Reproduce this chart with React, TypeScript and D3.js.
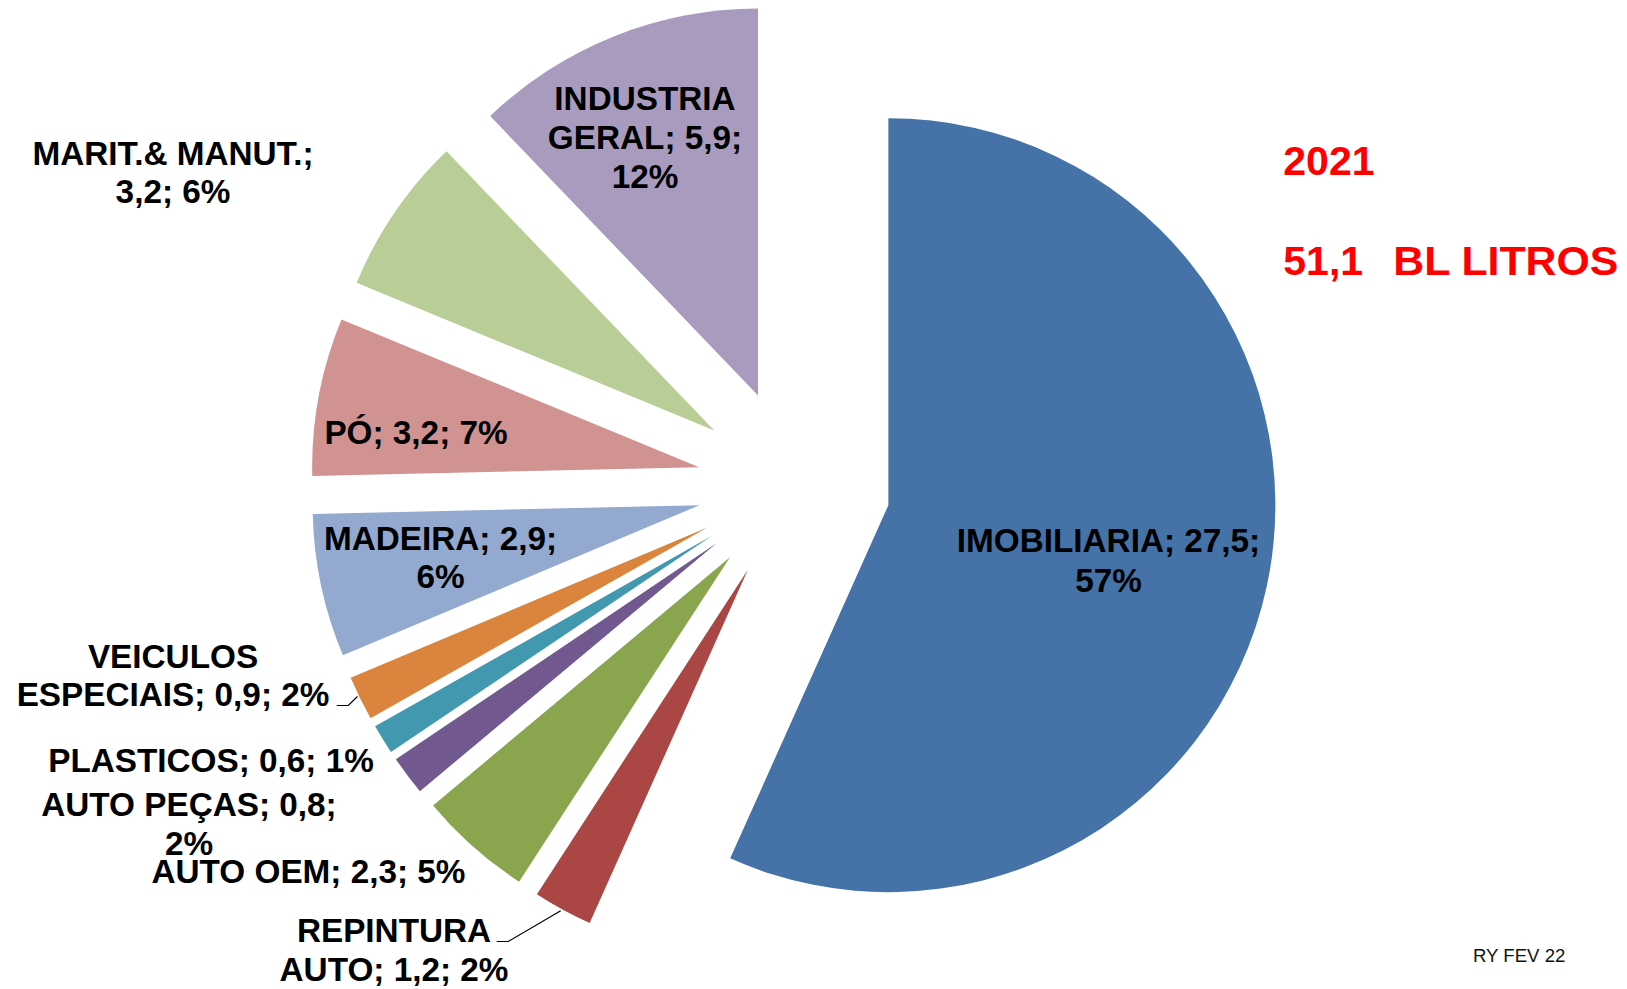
import React from "react";
import * as d3 from "d3";

// ---- data ----
const categories = [
  "IMOBILIARIA",
  "REPINTURA AUTO",
  "AUTO OEM",
  "AUTO PEÇAS",
  "PLASTICOS",
  "VEICULOS ESPECIAIS",
  "MADEIRA",
  "PÓ",
  "MARIT.& MANUT.",
  "INDUSTRIA GERAL",
];
const values = [27.5, 1.2, 2.3, 0.8, 0.6, 0.9, 2.9, 3.2, 3.2, 5.9];
const percentLabels = [57, 2, 5, 2, 1, 2, 6, 7, 6, 12];
const colors = [
  "#4572A7",
  "#AA4643",
  "#89A54E",
  "#71588F",
  "#4198AF",
  "#DB843D",
  "#93A9CF",
  "#D19392",
  "#B9CD96",
  "#A99BBD",
];
const titleYear = "2021";
const titleTotalValue = "51,1";
const titleTotalUnit = "BL LITROS";
const footnote = "RY FEV 22";

// ---- layout ----
const W = 1627;
const H = 989;
const CX = 794;
const CY = 485;
const R = 387;
const EXPLODE = 96.5;
const FONT = "'Liberation Sans', Arial, Helvetica, sans-serif";
const LABEL_SIZE = 33.3;

// words per line and anchor (center x, baselines) for each label
const labelLayout: { words: number[]; x: number; ys: number[] }[] = [
  { words: [2, 1], x: 1108.5, ys: [551.7, 591.7] },
  { words: [1, 3], x: 394, ys: [941.7, 980.5] },
  { words: [4], x: 308.5, ys: [883.3] },
  { words: [3, 1], x: 189, ys: [816, 855] },
  { words: [3], x: 211, ys: [771.7] },
  { words: [1, 3], x: 173, ys: [668.3, 706] },
  { words: [2, 1], x: 440.5, ys: [550, 588.3] },
  { words: [3], x: 416, ys: [444] },
  { words: [2, 2], x: 173, ys: [165, 202.7] },
  { words: [1, 2, 1], x: 645, ys: [110, 149, 187.5] },
];

const leaderLines: [number, number][][] = [
  [
    [496.7, 941.5],
    [508.3, 941.5],
    [560.7, 910.7],
  ],
  [
    [336.7, 705.5],
    [348.3, 705.5],
    [357.5, 696.5],
  ],
];

const fmt = (v: number) => v.toFixed(1).replace(".", ",");

export default function App() {
  const pie = d3
    .pie<number>()
    .sort(null)
    .value((d) => d)
    .startAngle(0)
    .endAngle(2 * Math.PI);
  const arcs = pie(values);
  const arcGen = d3.arc<d3.PieArcDatum<number>>().innerRadius(0).outerRadius(R);

  return (
    <svg
      width={W}
      height={H}
      viewBox={`0 0 ${W} ${H}`}
      style={{ position: "absolute", left: 0, top: 0, background: "#ffffff" }}
    >
      <rect x={0} y={0} width={W} height={H} fill="#ffffff" />
      <g>
        {arcs.map((a, i) => {
          const mid = (a.startAngle + a.endAngle) / 2;
          const dx = EXPLODE * Math.sin(mid);
          const dy = -EXPLODE * Math.cos(mid);
          return (
            <path
              key={categories[i]}
              d={arcGen(a) || ""}
              transform={`translate(${CX + dx},${CY + dy})`}
              fill={colors[i]}
            />
          );
        })}
      </g>
      <g fill="none" stroke="#000" strokeWidth={1.2}>
        {leaderLines.map((pts, i) => (
          <polyline key={i} points={pts.map((p) => p.join(",")).join(" ")} />
        ))}
      </g>
      <g fontFamily={FONT} fontWeight="bold" fontSize={LABEL_SIZE} fill="#000" textAnchor="middle">
        {categories.map((c, i) => {
          const full = `${c}; ${fmt(values[i])}; ${percentLabels[i]}%`;
          const words = full.split(" ");
          const lay = labelLayout[i];
          const lines: string[] = [];
          let k = 0;
          lay.words.forEach((n) => {
            lines.push(words.slice(k, k + n).join(" "));
            k += n;
          });
          return (
            <text key={c}>
              {lines.map((ln, j) => (
                <tspan key={j} x={lay.x} y={lay.ys[j]}>
                  {ln}
                </tspan>
              ))}
            </text>
          );
        })}
      </g>
      <g fontFamily={FONT} fontWeight="bold" fontSize={41} fill="#FF0000">
        <text x={1283.3} y={175}>
          {titleYear}
        </text>
        <text x={1283.3} y={275}>
          {titleTotalValue}
        </text>
        <text x={1393.3} y={275} textLength={225} lengthAdjust="spacingAndGlyphs">
          {titleTotalUnit}
        </text>
      </g>
      <text x={1473} y={962} fontFamily={FONT} fontSize={18.6} fill="#111">
        {footnote}
      </text>
    </svg>
  );
}
